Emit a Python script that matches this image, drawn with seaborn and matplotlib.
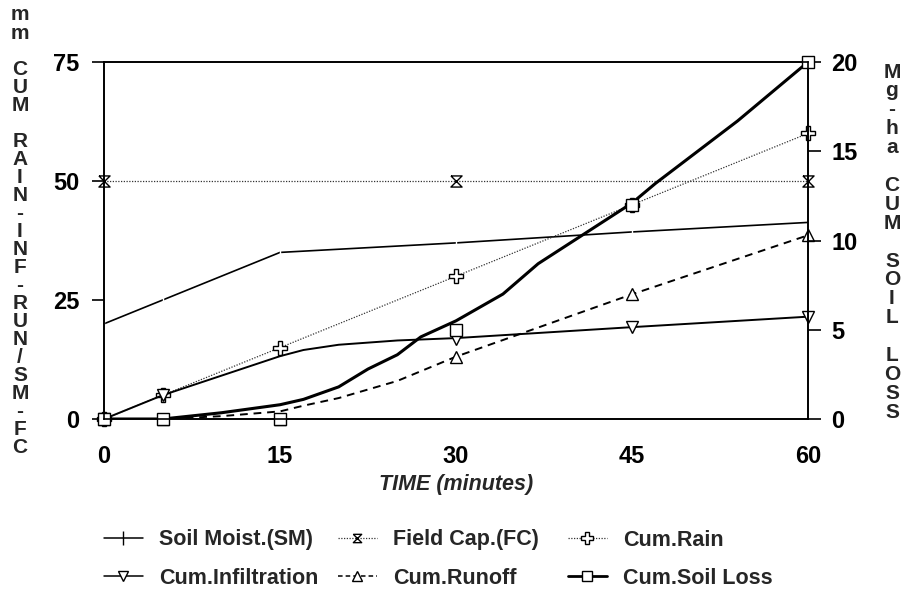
import numpy as np
import pandas as pd
import matplotlib
matplotlib.use("Agg")
import matplotlib.pyplot as plt
import seaborn as sns
from matplotlib.path import Path
from matplotlib.lines import Line2D

# ---- data (time in minutes) ----
time = [0, 5, 15, 30, 45, 60]
soil_moist = [20, 25, 35, 37, 39.3, 41.3]
fc_time = [0, 30, 60]
field_cap = [50, 50, 50]
cum_rain = [0, 5, 15, 30, 45, 60]

# smoothed curves as drawn in the chart
infil_curve_t = [0, 5, 10, 15, 17, 20, 25, 30, 45, 60]
infil_curve = [0, 5, 9.1, 13.2, 14.5, 15.6, 16.5, 17.0, 19.3, 21.5]
infil_mark_t = [0, 5, 30, 45, 60]
infil_mark = [0, 5, 16.8, 19.3, 21.5]

runoff_curve_t = [0, 5, 10, 15, 17, 20, 25, 30, 45, 60]
runoff_curve = [0, 0, 0.6, 1.6, 2.8, 4.4, 8.0, 13.1, 26.2, 38.6]
runoff_mark = [0, 0, 0, 13.1, 26.2, 38.6]

# soil loss on right axis (Mg/ha)
loss_curve_t = [0, 5, 10, 15, 17, 20, 22.5, 25, 27, 30, 34, 37, 41, 45, 47, 54, 60]
loss_curve = [0, 0, 0.35, 0.8, 1.1, 1.8, 2.8, 3.6, 4.6, 5.5, 7.0, 8.7, 10.4, 12.1, 13.2, 16.7, 20]
loss_mark = [0, 0, 0, 5.0, 12.0, 20.0]

labels = ["Soil Moist.(SM)", "Field Cap.(FC)", "Cum.Rain",
          "Cum.Infiltration", "Cum.Runoff", "Cum.Soil Loss"]

sns.set_theme(style="white")
plt.rcParams['font.family'] = ['Liberation Sans', 'DejaVu Sans']
plt.rcParams['font.weight'] = 'bold'

hourglass = Path([(-1, 1), (1, 1), (-1, -1), (1, -1), (-1, 1)])

fig = plt.figure(figsize=(9.02, 5.94), dpi=100)
ax = fig.add_axes([0.1153, 0.2946, 0.7805, 0.601])
ax2 = ax.twinx()

dot = (0, (1, 1.2))
mk = dict(mfc='white', mec='black', mew=1.0)

# soil moisture
sns.lineplot(x=time, y=soil_moist, ax=ax, color='black', lw=1.2,
             marker='|', ms=10, mew=1.0, estimator=None, clip_on=False)
# field capacity
sns.lineplot(x=fc_time, y=field_cap, ax=ax, color='#333333', lw=0.9,
             linestyle=dot, marker=hourglass, ms=8, estimator=None,
             clip_on=False, **mk)
# cumulative rain
sns.lineplot(x=time, y=cum_rain, ax=ax, color='#333333', lw=0.9,
             linestyle=dot, marker='P', ms=10, estimator=None,
             clip_on=False, **mk)
# infiltration
sns.lineplot(x=infil_curve_t, y=infil_curve, ax=ax, color='black', lw=1.4,
             estimator=None)
sns.lineplot(x=infil_mark_t, y=infil_mark, ax=ax, color='black', linestyle='',
             marker='v', ms=9, estimator=None, clip_on=False, **mk)
# runoff
sns.lineplot(x=runoff_curve_t, y=runoff_curve, ax=ax, color='black', lw=1.4,
             linestyle=(0, (4, 3)), estimator=None)
sns.lineplot(x=time, y=runoff_mark, ax=ax, color='black', linestyle='',
             marker='^', ms=9, estimator=None, clip_on=False, **mk)
# soil loss
sns.lineplot(x=loss_curve_t, y=loss_curve, ax=ax2, color='black', lw=2.2,
             estimator=None)
sns.lineplot(x=time, y=loss_mark, ax=ax2, color='black', linestyle='',
             marker='s', ms=9, estimator=None, clip_on=False, **mk)

ax.set_xlim(0, 60)
ax.set_ylim(0, 75)
ax2.set_ylim(0, 20)
ax.set_xticks([0, 15, 30, 45, 60])
ax.set_yticks([0, 25, 50, 75])
ax2.set_yticks([0, 5, 10, 15, 20])
for a in (ax, ax2):
    for s in a.spines.values():
        s.set_color('black')
        s.set_linewidth(1.2)
    a.tick_params(direction='out', length=9, width=1.2, colors='black',
                  labelsize=17)
ax.tick_params(axis='x', pad=10)
ax.tick_params(axis='y', pad=9)
ax2.tick_params(axis='y', pad=8)
for t in ax.get_xticklabels() + ax.get_yticklabels() + ax2.get_yticklabels():
    t.set_fontweight('bold')
ax.set_xlabel("TIME (minutes)", fontsize=15.5, fontstyle='italic',
              fontweight='bold', labelpad=4)
ax.set_ylabel("")
ax2.set_ylabel("")

# stacked vertical axis titles
left_chars = list("mm") + [""] + list("CUM") + [""] + list("RAIN-INF-RUN/SM-FC")
for i, c in enumerate(left_chars):
    fig.text(20 / 902, 1 - (15 + i * 18.04) / 594, c, ha='center', va='center',
             fontsize=15, fontweight='bold')
right_chars = list("Mg-ha") + [""] + list("CUM") + [""] + list("SOIL") + [""] + list("LOSS")
for i, c in enumerate(right_chars):
    fig.text(892 / 902, 1 - (72 + i * 18.9) / 594, c, ha='center', va='center',
             fontsize=15, fontweight='bold')

handles = [
    Line2D([], [], color='black', lw=1.1, marker='|', ms=10),
    Line2D([], [], color='#333333', lw=0.9, ls=dot, marker=hourglass, ms=6, **mk),
    Line2D([], [], color='#333333', lw=0.9, ls=dot, marker='P', ms=8, **mk),
    Line2D([], [], color='black', lw=1.1, marker='v', ms=7, **mk),
    Line2D([], [], color='black', lw=1.1, ls=(0, (3, 2)), marker='^', ms=7, **mk),
    Line2D([], [], color='black', lw=2.0, marker='s', ms=7, **mk),
]
# one small legend per entry, laid out as the 3x2 grid of the chart
col_left = [104, 338, 568]
row_y = [540, 578]
for k in range(6):
    col, row = k % 3, k // 3
    fig.legend([handles[k]], [labels[k]], loc='center left',
               bbox_to_anchor=(col_left[col] / 902, 1 - row_y[row] / 594),
               frameon=False, fontsize=15.5, handlelength=1.8,
               handletextpad=0.75, borderpad=0, borderaxespad=0)

fig.savefig("out.png", dpi=100, facecolor='white')
